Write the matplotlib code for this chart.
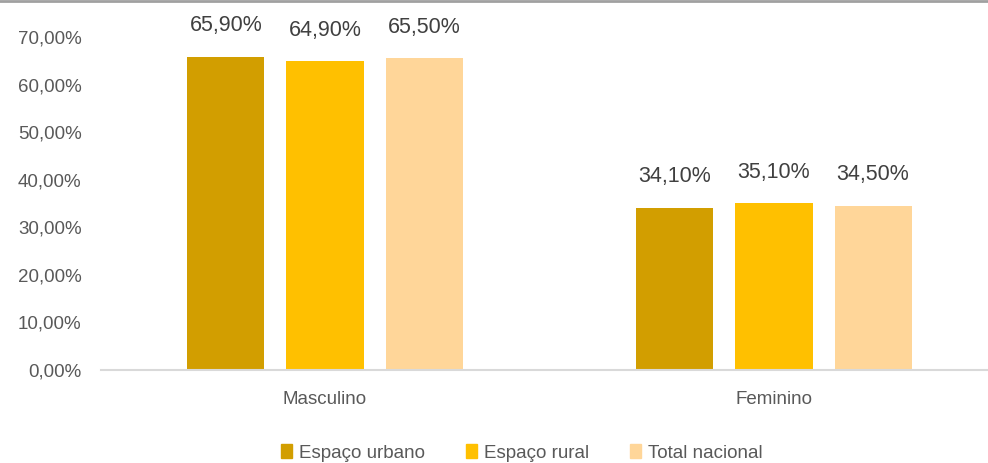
import matplotlib
matplotlib.use("Agg")
import matplotlib.pyplot as plt
from matplotlib.patches import Patch
import numpy as np

plt.rcParams['font.family'] = ['Liberation Sans', 'DejaVu Sans']

categorias = ['Masculino', 'Feminino']
series = ['Espaço urbano', 'Espaço rural', 'Total nacional']
urbano = [65.9, 34.1]
rural = [64.9, 35.1]
nacional = [65.5, 34.5]
cores = ['#d29e00', '#ffc000', '#ffd699']

fig = plt.figure(figsize=(9.88, 4.63), dpi=100)
ax = fig.add_axes([101 / 988, 1 - 370 / 463, (988 - 101) / 988, (370 - 37) / 463])

x = np.arange(len(categorias))
largura = 0.1715
passo = 0.2205
for i, (vals, cor) in enumerate(zip([urbano, rural, nacional], cores)):
    pos = x + (i - 1) * passo
    ax.bar(pos, vals, width=largura, color=cor, zorder=2)
    for xp, v in zip(pos, vals):
        ax.text(xp, v + 4.3, ('%.2f%%' % v).replace('.', ','), ha='center', va='bottom',
                fontsize=15.5, color='#404040')

ax.set_ylim(0, 70)
ax.set_xlim((101 - 325) / 449, (988 - 325) / 449)
ax.set_yticks(np.arange(0, 71, 10))
ax.set_yticklabels([('%.2f%%' % t).replace('.', ',') for t in np.arange(0, 71, 10)])
ax.set_xticks(x)
ax.set_xticklabels(categorias)
ax.tick_params(axis='y', length=0, pad=14, labelsize=13.5, labelcolor='#595959')
ax.tick_params(axis='x', length=0, pad=15, labelsize=13.5, labelcolor='#595959')
for s in ['top', 'right', 'left']:
    ax.spines[s].set_visible(False)
ax.spines['bottom'].set_color('#d9d9d9')
ax.spines['bottom'].set_linewidth(1.5)

handles = [Patch(color=c, label=s) for c, s in zip(cores, series)]
fig.legend(handles=handles, loc='center', bbox_to_anchor=(0.528, 1 - 453 / 463), ncol=3,
           frameon=False, fontsize=13.5, handlelength=0.6, handleheight=0.7,
           handletextpad=0.35, columnspacing=2.2, labelcolor='#595959')

# linha cinza no topo
fig.add_artist(plt.Line2D([0, 1], [0.998, 0.998], color='#a0a0a0', lw=2))

fig.savefig('out.png', dpi=100)
